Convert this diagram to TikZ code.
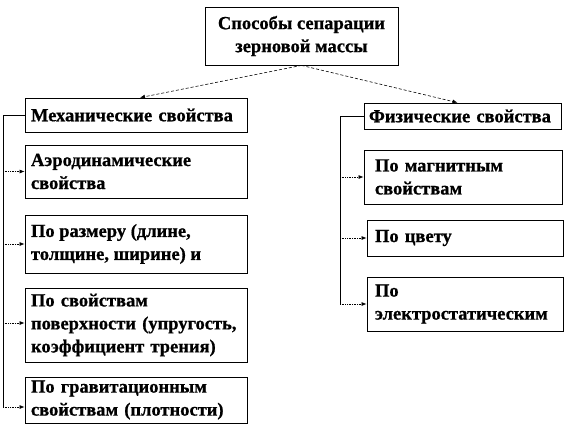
\documentclass[tikz,border=0pt]{standalone}
\usepackage{fontspec}
\setmainfont{Liberation Serif}[BoldFont={Liberation Serif Bold},BoldFeatures={FakeBold=0.8}]
\usetikzlibrary{arrows.meta}
\begin{document}
\begin{tikzpicture}[x=1pt,y=-1pt,
  box/.style={draw, line width=0.8pt, inner sep=0pt, align=left,
    font=\bfseries\fontsize{18.5}{23}\selectfont, anchor=center},
  tip/.style={-{Latex[length=5pt,width=4pt]}},
  topline/.style={tip, line width=0.6pt, densely dashed},
  stub/.style={tip, line width=0.7pt, densely dotted},
  trunk/.style={line width=0.7pt}]
\useasboundingbox (0,0) rectangle (565,437);
\node[box, minimum width=193pt, minimum height=58pt, align=center] (top) at (301.5,36)
  {Способы сепарации\\зерновой массы};
\node[box, minimum width=222pt, minimum height=34pt, text width=210pt] (mech) at (136,115)
  {Механические свойства};
\node[box, minimum width=222pt, minimum height=53pt, text width=210pt] (aero) at (136,171.5)
  {Аэродинамические\\свойства};
\node[box, minimum width=222pt, minimum height=58pt, align=none] (size) at (136,244)
  {\raisebox{4pt}{\parbox[c]{210pt}{\raggedright По размеру (длине,\\толщине, ширине) и}}};
\node[box, minimum width=222pt, minimum height=74pt, text width=210pt] (surf) at (136,325)
  {По свойствам\\поверхности (упругость,\\коэффициент трения)};
\node[box, minimum width=222pt, minimum height=46pt, text width=210pt] (grav) at (136,400)
  {По гравитационным\\свойствам (плотности)};
\node[box, minimum width=197pt, minimum height=26pt, text width=187pt] (phys) at (462.5,116)
  {Физические свойства};
\node[box, minimum width=198pt, minimum height=54pt, text width=176pt] (magn) at (463,177)
  {По магнитным\\свойствам};
\node[box, minimum width=196pt, minimum height=36pt, text width=180pt] (color) at (465,238)
  {По цвету};
\node[box, minimum width=196pt, minimum height=54pt, text width=180pt] (elec) at (465,304)
  {По\\электростатическим};
% top connectors
\draw[topline] (top.south) -- ([xshift=4pt]mech.north);
\draw[topline] (top.south) -- ([xshift=-5pt]phys.north);
% left tree
\coordinate (lt) at (3,115);
\coordinate (lb) at (3,407);
\draw[trunk] (mech.west) -- (lt) -- (lb);
\draw[stub] (aero.west -| lt) -- (aero.west);
\draw[stub] (size.west -| lt) -- (size.west);
\draw[stub] ([yshift=2pt]surf.west -| lt) -- ([yshift=2pt]surf.west);
\draw[stub] (lb) -- (lb -| grav.west);
% right tree
\coordinate (rt) at (340,116);
\coordinate (rb) at (340,304);
\draw[trunk] (phys.west) -- (rt) -- (rb);
\draw[stub] (magn.west -| rt) -- (magn.west);
\draw[stub] (color.west -| rt) -- (color.west);
\draw[stub] (rb) -- (elec.west);
\end{tikzpicture}
\end{document}
